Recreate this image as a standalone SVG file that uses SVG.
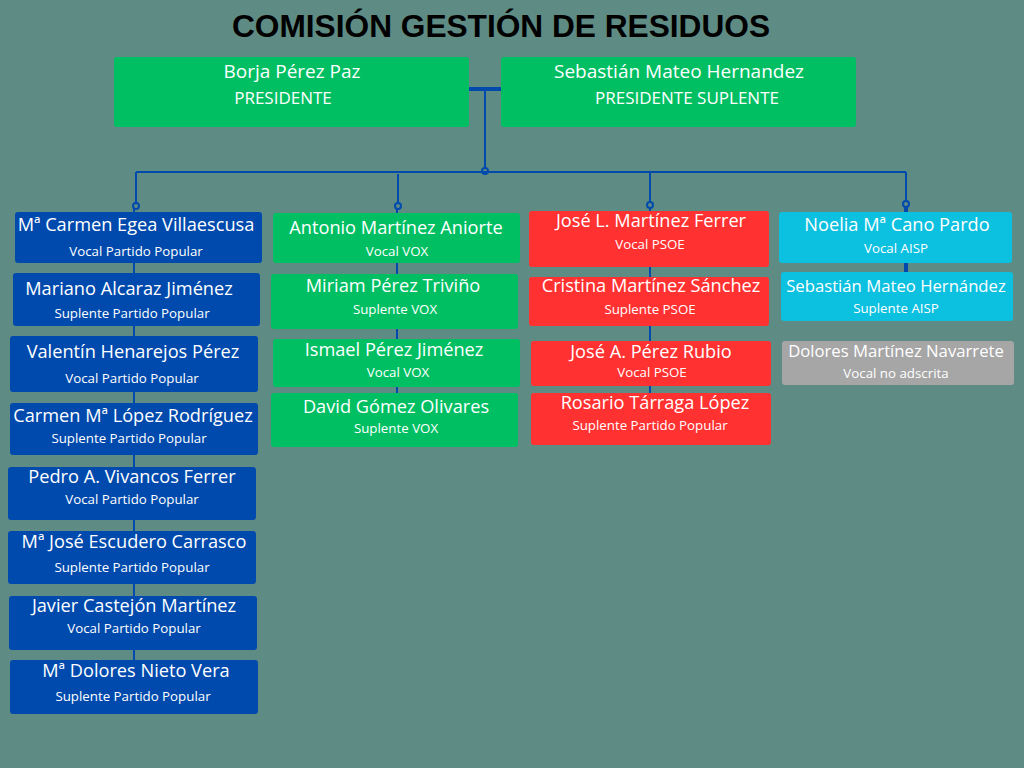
<svg xmlns="http://www.w3.org/2000/svg" width="1024" height="768" viewBox="0 0 1024 768">
<style>
.bg{fill:#5E8B83}
.g{fill:#00BF63}.b{fill:#004AAD}.r{fill:#FF3131}.c{fill:#0CC0DF}.gr{fill:#A6A6A6}
text{font-family:"Open Sans","Liberation Sans",sans-serif;fill:#FFFFFF;text-anchor:middle}
.n{font-size:18.2px}
.n2{font-size:16.7px}
.s{font-size:13.3px}
.tn{font-size:19px}
.ts{font-size:17px}
.t{font-family:"Liberation Sans",Arial,sans-serif;font-weight:bold;font-size:32px;fill:#000000}
.ln{stroke:#004AAD;stroke-width:2;fill:none}
.dot{stroke:#004AAD;stroke-width:2;fill:none}
</style>
<rect class="bg" x="0" y="0" width="1024" height="768"/>
<text class="t" x="501" y="37" textLength="538" lengthAdjust="spacingAndGlyphs">COMISIÓN GESTIÓN DE RESIDUOS</text>
<g id="connectors">
<line class="ln" x1="469" y1="89" x2="501" y2="89" style="stroke-width:4"/>
<line class="ln" x1="485" y1="89" x2="485" y2="168"/>
<line class="ln" x1="136" y1="172" x2="906" y2="172"/>
<circle class="dot" cx="485" cy="171" r="3"/>
<line class="ln" x1="136" y1="172" x2="136" y2="203"/>
<circle class="dot" cx="136" cy="206" r="3"/>
<line class="ln" x1="134" y1="209" x2="134" y2="714"/>
<line class="ln" x1="398" y1="174" x2="398" y2="203"/>
<circle class="dot" cx="398" cy="206" r="3"/>
<line class="ln" x1="397" y1="209" x2="397" y2="447"/>
<line class="ln" x1="650" y1="172" x2="650" y2="202"/>
<circle class="dot" cx="650" cy="205" r="3"/>
<line class="ln" x1="650" y1="208" x2="650" y2="445"/>
<line class="ln" x1="906" y1="172" x2="906" y2="201"/>
<circle class="dot" cx="906" cy="204" r="3"/>
<line class="ln" x1="906" y1="207" x2="906" y2="272" style="stroke-width:4"/>
</g>
<g id="presidente"><rect class="g" x="114" y="57" width="355" height="70" rx="3"/><text class="tn" x="292" y="78">Borja Pérez Paz</text><text class="ts" x="283" y="104">PRESIDENTE</text></g>
<g id="presidente-suplente"><rect class="g" x="501" y="57" width="355" height="70" rx="3"/><text class="tn" x="679" y="78">Sebastián Mateo Hernandez</text><text class="ts" x="687" y="104">PRESIDENTE SUPLENTE</text></g>

<g id="pp1"><rect class="b" x="15" y="212" width="247" height="51" rx="3"/><text class="n" x="136" y="231">Mª Carmen Egea Villaescusa</text><text class="s" x="136" y="256">Vocal Partido Popular</text></g>
<g id="pp2"><rect class="b" x="13" y="273" width="247" height="53" rx="3"/><text class="n" x="129" y="295">Mariano Alcaraz Jiménez</text><text class="s" x="132" y="318">Suplente Partido Popular</text></g>
<g id="pp3"><rect class="b" x="10" y="336" width="248" height="56" rx="3"/><text class="n" x="133" y="358">Valentín Henarejos Pérez</text><text class="s" x="132" y="383">Vocal Partido Popular</text></g>
<g id="pp4"><rect class="b" x="10" y="403" width="248" height="52" rx="3"/><text class="n" x="133" y="422">Carmen Mª López Rodríguez</text><text class="s" x="129" y="443">Suplente Partido Popular</text></g>
<g id="pp5"><rect class="b" x="8" y="467" width="248" height="53" rx="3"/><text class="n" x="132" y="483">Pedro A. Vivancos Ferrer</text><text class="s" x="132" y="504">Vocal Partido Popular</text></g>
<g id="pp6"><rect class="b" x="8" y="531" width="248" height="53" rx="3"/><text class="n" x="134" y="548">Mª José Escudero Carrasco</text><text class="s" x="132" y="572">Suplente Partido Popular</text></g>
<g id="pp7"><rect class="b" x="9" y="596" width="248" height="54" rx="3"/><text class="n" x="134" y="612">Javier Castejón Martínez</text><text class="s" x="134" y="633">Vocal Partido Popular</text></g>
<g id="pp8"><rect class="b" x="10" y="660" width="248" height="54" rx="3"/><text class="n" x="136" y="677">Mª Dolores Nieto Vera</text><text class="s" x="133" y="701">Suplente Partido Popular</text></g>

<g id="vox1"><rect class="g" x="273" y="213" width="247" height="50" rx="3"/><text class="n" x="396" y="234">Antonio Martínez Aniorte</text><text class="s" x="397" y="256">Vocal VOX</text></g>
<g id="vox2"><rect class="g" x="271" y="274" width="247" height="55" rx="3"/><text class="n" x="393" y="292">Miriam Pérez Triviño</text><text class="s" x="395" y="314">Suplente VOX</text></g>
<g id="vox3"><rect class="g" x="273" y="339" width="247" height="48" rx="3"/><text class="n" x="394" y="356">Ismael Pérez Jiménez</text><text class="s" x="398" y="377">Vocal VOX</text></g>
<g id="vox4"><rect class="g" x="271" y="393" width="247" height="54" rx="3"/><text class="n" x="396" y="413">David Gómez Olivares</text><text class="s" x="396" y="433">Suplente VOX</text></g>

<g id="psoe1"><rect class="r" x="529" y="211" width="240" height="56" rx="3"/><text class="n" x="651" y="227">José L. Martínez Ferrer</text><text class="s" x="650" y="249">Vocal PSOE</text></g>
<g id="psoe2"><rect class="r" x="529" y="277" width="240" height="49" rx="3"/><text class="n" x="651" y="292">Cristina Martínez Sánchez</text><text class="s" x="650" y="314">Suplente PSOE</text></g>
<g id="psoe3"><rect class="r" x="531" y="341" width="240" height="45" rx="3"/><text class="n" x="651" y="358">José A. Pérez Rubio</text><text class="s" x="652" y="377">Vocal PSOE</text></g>
<g id="psoe4"><rect class="r" x="531" y="393" width="240" height="52" rx="3"/><text class="n" x="655" y="409">Rosario Tárraga López</text><text class="s" x="650" y="430">Suplente Partido Popular</text></g>

<g id="aisp1"><rect class="c" x="779" y="212" width="233" height="51" rx="3"/><text class="n" x="897" y="231">Noelia Mª Cano Pardo</text><text class="s" x="896" y="253">Vocal AISP</text></g>
<g id="aisp2"><rect class="c" x="781" y="272" width="232" height="49" rx="3"/><text class="n2" x="896" y="292">Sebastián Mateo Hernández</text><text class="s" x="896" y="313">Suplente AISP</text></g>
<g id="noadscrita"><rect class="gr" x="782" y="341" width="232" height="44" rx="3"/><text class="n2" x="896" y="357">Dolores Martínez Navarrete</text><text class="s" x="896" y="378">Vocal no adscrita</text></g>
</svg>
